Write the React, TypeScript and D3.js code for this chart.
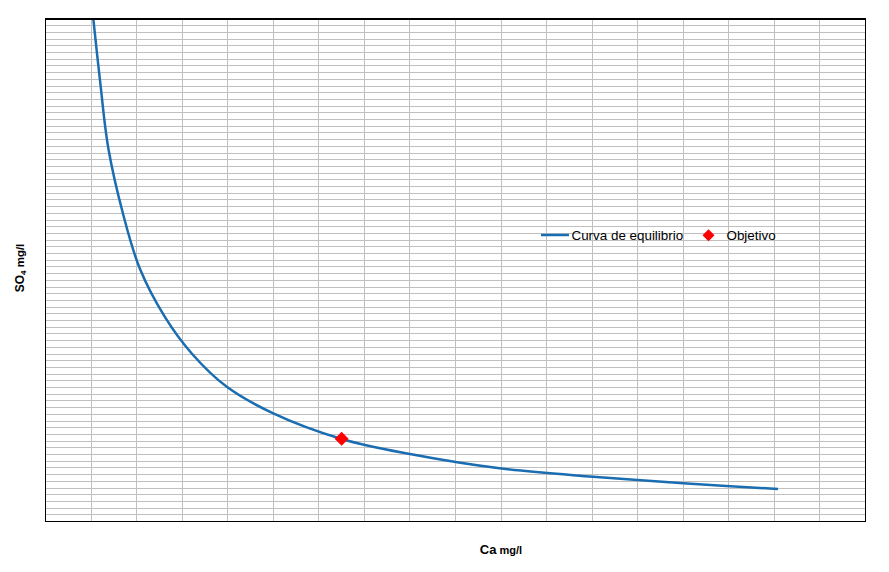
import React from "react";
import * as d3 from "d3";

// Ca (mg/l) values along the equilibrium curve
const caValues = [105, 120, 138, 171, 207, 262, 321, 398, 500, 650, 800, 1001, 1202, 1400, 1608];
// SO4 (mg/l) values along the equilibrium curve
const so4Values = [7500, 6560, 5566, 4571, 3776, 3054, 2508, 2010, 1614, 1232, 1007, 790, 668, 572, 485];
// Target point
const objetivoCa = [650];
const objetivoSO4 = [1235];

const seriesNames = ["Curva de equilibrio", "Objetivo"];
const xMax = 1800;
const yMax = 7500;
const xGridStep = 100;
const yGridStep = 100;

const W = 889;
const H = 572;
const M = { left: 45.5, top: 19, right: 865.5, bottom: 521.5 };

export default function App() {
  const x = d3.scaleLinear().domain([0, xMax]).range([M.left, M.right]);
  const y = d3.scaleLinear().domain([0, yMax]).range([M.bottom, M.top]);

  const xGrid = d3.range(xGridStep, xMax, xGridStep);
  const yGrid = d3.range(yGridStep, yMax, yGridStep);

  const pts: [number, number][] = caValues.map((c, i) => [c, so4Values[i]]);
  const line = d3
    .line<[number, number]>()
    .x((d) => x(d[0]))
    .y((d) => y(d[1]))
    .curve(d3.curveCatmullRom.alpha(0.5));

  const diamond = (cx: number, cy: number, r: number) =>
    `M${cx},${cy - r}L${cx + r},${cy}L${cx},${cy + r}L${cx - r},${cy}Z`;

  const font = "'Liberation Sans', Arial, sans-serif";
  const blue = "#1b6db2";

  return (
    <svg
      width={W}
      height={H}
      style={{ position: "fixed", left: 0, top: 0, display: "block", background: "#fff" }}
    >
      <defs>
        <clipPath id="plotClip">
          <rect x={M.left} y={M.top} width={M.right - M.left} height={M.bottom - M.top} />
        </clipPath>
      </defs>
      <g shapeRendering="crispEdges">
        {yGrid.map((v) => (
          <line key={"y" + v} x1={M.left} x2={M.right} y1={y(v)} y2={y(v)} stroke="#c0c0c0" strokeWidth={1} />
        ))}
        {xGrid.map((v) => (
          <line key={"x" + v} x1={x(v)} x2={x(v)} y1={M.top} y2={M.bottom} stroke="#c0c0c0" strokeWidth={1} />
        ))}
      </g>
      <g clipPath="url(#plotClip)">
        <path d={line(pts) || ""} fill="none" stroke={blue} strokeWidth={2.5} />
        {objetivoCa.map((c, i) => (
          <path key={i} d={diamond(x(c), y(objetivoSO4[i]), 7)} fill="#ff0000" />
        ))}
      </g>
      <rect
        x={M.left}
        y={M.top}
        width={M.right - M.left}
        height={M.bottom - M.top}
        fill="none"
        stroke="#000"
        strokeWidth={1.3}
        shapeRendering="crispEdges"
      />
      {/* Legend */}
      <line x1={541} x2={569} y1={235} y2={235} stroke={blue} strokeWidth={2.5} />
      <text x={571.5} y={239.7} fontFamily={font} fontSize={13.4} fill="#000">
        {seriesNames[0]}
      </text>
      <path d={diamond(708.5, 235.2, 6)} fill="#ff0000" />
      <text x={726.5} y={239.7} fontFamily={font} fontSize={13.4} fill="#000">
        {seriesNames[1]}
      </text>
      {/* X axis title */}
      <text x={501} y={554} textAnchor="middle" fontFamily={font} fontWeight="bold" fill="#000">
        <tspan fontSize={13}>Ca</tspan>
        <tspan fontSize={11}> mg/l</tspan>
      </text>
      {/* Y axis title */}
      <text
        transform="translate(24,268) rotate(-90)"
        textAnchor="middle"
        fontFamily={font}
        fontWeight="bold"
        fill="#000"
      >
        <tspan fontSize={12}>SO</tspan>
        <tspan fontSize={8} dy={2}>4</tspan>
        <tspan fontSize={11.5} dy={-2}> mg/l</tspan>
      </text>
    </svg>
  );
}
